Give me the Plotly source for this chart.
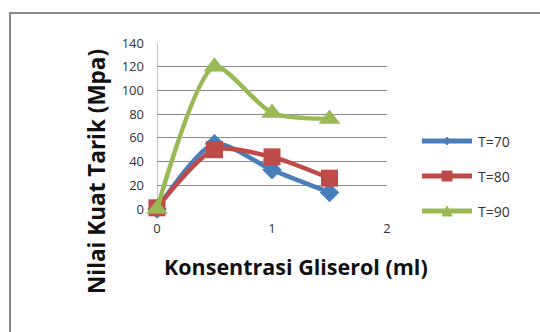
import plotly.graph_objects as go

# Glycerol concentration (ml) and tensile strength (MPa) per temperature
konsentrasi = [0, 0.5, 1, 1.5]
kuat_t70 = [0, 55, 33, 14]
kuat_t80 = [1, 50, 44, 26]
kuat_t90 = [0, 120, 81, 76]
seri_nama = ["T=70", "T=80", "T=90"]
y_ticks = [0, 20, 40, 60, 80, 100, 120, 140]
x_ticks = [0, 1, 2]

warna = ["#4A7EBB", "#BE4B48", "#98B954"]
simbol = ["diamond", "square", "triangle-up"]
ukuran = [15, 17, 19]

fig = go.Figure()
for i, (nama, nilai) in enumerate(zip(seri_nama, [kuat_t70, kuat_t80, kuat_t90])):
    fig.add_trace(go.Scatter(
        x=konsentrasi, y=nilai, name=nama,
        mode="lines+markers",
        line=dict(color=warna[i], width=4.5, shape="spline", smoothing=0.7),
        marker=dict(symbol=simbol[i], size=ukuran[i], color=warna[i]),
        cliponaxis=False, showlegend=False,
    ))

W, H = 540, 332
L, R, T, B = 157, 387, 43, 209

def px_x(p):
    return (p - L) / (R - L)

def px_y(p):
    return (B - p) / (B - T)

shapes = [
    # Outer chart frame
    dict(type="rect", xref="paper", yref="paper",
         x0=px_x(10), x1=px_x(560), y0=px_y(360), y1=px_y(13),
         line=dict(color="#888", width=2), fillcolor="rgba(0,0,0,0)", layer="below"),
    # Vertical axis line at x = 0
    dict(type="line", xref="x", yref="paper", x0=0, x1=0, y0=0, y1=1,
         line=dict(color="#8c8c8c", width=1), layer="below"),
]
annotations = [
    dict(text="<b>Konsentrasi Gliserol (ml)</b>", xref="paper", yref="paper",
         x=px_x(296), y=px_y(266), xanchor="center", yanchor="middle",
         showarrow=False, font=dict(size=21.5, color="#111")),
    dict(text="<b>Nilai Kuat Tarik (Mpa)</b>", xref="paper", yref="paper",
         x=px_x(96), y=px_y(172), xanchor="center", yanchor="middle",
         textangle=-90, showarrow=False, font=dict(size=22.5, color="#111")),
]

# Legend: long line sample with a small marker, label to the right
legend_y = [141, 176, 211]
lx0, lx1, lxm = 422, 472, 447
for i, nama in enumerate(seri_nama):
    yy = legend_y[i]
    shapes.append(dict(type="line", xref="paper", yref="paper",
                       x0=px_x(lx0), x1=px_x(lx1), y0=px_y(yy), y1=px_y(yy),
                       line=dict(color=warna[i], width=5)))
    if simbol[i] == "diamond":
        path = "M {} {} L {} {} L {} {} L {} {} Z".format(
            px_x(lxm - 3), px_y(yy), px_x(lxm), px_y(yy - 4),
            px_x(lxm + 3), px_y(yy), px_x(lxm), px_y(yy + 4))
    elif simbol[i] == "square":
        path = "M {} {} L {} {} L {} {} L {} {} Z".format(
            px_x(lxm - 5), px_y(yy - 5), px_x(lxm + 5), px_y(yy - 5),
            px_x(lxm + 5), px_y(yy + 5), px_x(lxm - 5), px_y(yy + 5))
    else:
        path = "M {} {} L {} {} L {} {} Z".format(
            px_x(lxm - 5), px_y(yy + 5), px_x(lxm), px_y(yy - 5),
            px_x(lxm + 5), px_y(yy + 5))
    shapes.append(dict(type="path", xref="paper", yref="paper", path=path,
                       fillcolor=warna[i], line=dict(color=warna[i], width=1)))
    annotations.append(dict(text=nama, xref="paper", yref="paper",
                            x=px_x(476), y=px_y(yy), xanchor="left", yanchor="middle",
                            showarrow=False, font=dict(size=14, color="#333")))

fig.update_layout(
    width=W, height=H,
    margin=dict(l=L, r=W - R, t=T, b=H - B, pad=0),
    paper_bgcolor="white", plot_bgcolor="white",
    font=dict(family="Open Sans, Arial, sans-serif", color="#222"),
    xaxis=dict(
        range=[0, 2], tickvals=x_ticks, showgrid=False, zeroline=False,
        showline=False, ticks="", tickfont=dict(size=13, color="#333"),
        ticklabelstandoff=10,
    ),
    yaxis=dict(
        range=[0, 140], tickvals=y_ticks, showgrid=True, gridcolor="#8c8c8c",
        gridwidth=1, zeroline=False, showline=False, ticks="",
        tickfont=dict(size=13, color="#333"), ticklabelstandoff=12,
    ),
    showlegend=False,
    shapes=shapes,
    annotations=annotations,
)

fig.write_html("out.html")
